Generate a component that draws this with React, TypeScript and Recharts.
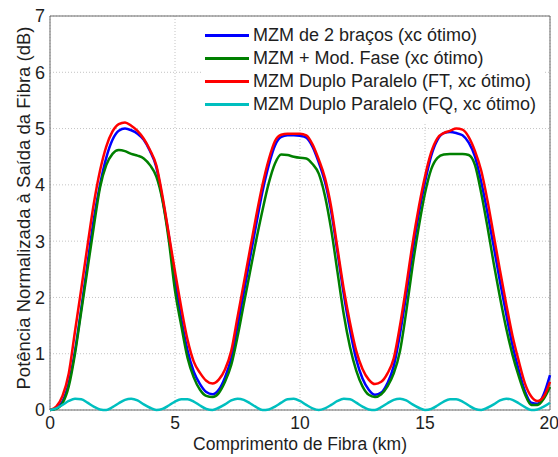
import { CartesianGrid, Label, Legend, Line, LineChart, ReferenceArea, XAxis, YAxis } from "recharts";

// fiber length samples (km)
const KM = [
  0, 0.25, 0.5, 0.75, 1, 1.25, 1.5, 1.75, 2, 2.25, 2.5, 2.75, 3, 3.25, 3.5, 3.75, 4, 4.25, 4.5, 4.75,
  5, 5.25, 5.5, 5.75, 6, 6.25, 6.5, 6.75, 7, 7.25, 7.5, 7.75, 8, 8.25, 8.5, 8.75, 9, 9.25, 9.5, 9.75,
  10, 10.25, 10.5, 10.75, 11, 11.25, 11.5, 11.75, 12, 12.25, 12.5, 12.75, 13, 13.25, 13.5, 13.75, 14, 14.25, 14.5, 14.75,
  15, 15.25, 15.5, 15.75, 16, 16.25, 16.5, 16.75, 17, 17.25, 17.5, 17.75, 18, 18.25, 18.5, 18.75, 19, 19.25, 19.5, 19.75, 20,
];

const MZM_2BRACOS = [
  0, 0.03, 0.15, 0.48, 1.05, 1.8, 2.6, 3.38, 4.0, 4.48, 4.8, 4.96, 5.0, 4.97, 4.91, 4.8, 4.6, 4.32, 3.75, 3.1,
  2.3, 1.62, 1.06, 0.68, 0.46, 0.32, 0.28, 0.36, 0.58, 0.92, 1.48, 2.08, 2.7, 3.3, 3.88, 4.35, 4.7, 4.85, 4.88, 4.88,
  4.87, 4.84, 4.68, 4.4, 4.05, 3.52, 2.8, 2.06, 1.42, 0.9, 0.56, 0.36, 0.27, 0.31, 0.48, 0.78, 1.35, 2.05, 2.8, 3.48,
  4.05, 4.52, 4.8, 4.92, 4.94, 4.92, 4.88, 4.75, 4.5, 4.05, 3.5, 2.9, 2.28, 1.7, 1.15, 0.71, 0.33, 0.13, 0.11, 0.28, 0.62,
];

const MZM_MOD_FASE = [
  0, 0.02, 0.12, 0.42, 1.0, 1.75, 2.5, 3.25, 3.95, 4.35, 4.55, 4.62, 4.6, 4.55, 4.52, 4.47, 4.35, 4.15, 3.72, 3.02,
  2.12, 1.5, 0.93, 0.58, 0.36, 0.25, 0.23, 0.3, 0.5, 0.8, 1.3, 1.88, 2.45, 3.02, 3.55, 4.03, 4.38, 4.54, 4.53, 4.5,
  4.48, 4.47, 4.37, 4.2, 3.8, 3.2, 2.45, 1.7, 1.12, 0.7, 0.42, 0.27, 0.23, 0.28, 0.42, 0.65, 1.05, 1.75, 2.55, 3.25,
  3.85, 4.28, 4.48, 4.54, 4.55, 4.55, 4.55, 4.53, 4.35, 3.85, 3.25, 2.6, 2.0, 1.45, 0.98, 0.6, 0.28, 0.09, 0.09, 0.2, 0.41,
];

const MZM_DP_FT = [
  0, 0.06, 0.25, 0.65, 1.4, 2.15, 2.92, 3.66, 4.25, 4.68, 4.95, 5.08, 5.11, 5.05, 4.96, 4.82, 4.62, 4.35, 3.8, 3.13,
  2.46, 1.82, 1.25, 0.86, 0.66, 0.52, 0.47, 0.54, 0.72, 1.05, 1.65, 2.25, 2.85, 3.45, 4.0, 4.45, 4.78, 4.89, 4.91, 4.91,
  4.91, 4.88, 4.72, 4.45, 4.12, 3.6, 2.87, 2.15, 1.55, 1.05, 0.73, 0.54, 0.46, 0.5, 0.65, 0.92, 1.5, 2.2, 2.95, 3.6,
  4.15, 4.58, 4.83, 4.92, 4.96, 5.0, 4.98, 4.85, 4.6, 4.25, 3.72, 3.1, 2.48, 1.88, 1.32, 0.87, 0.47, 0.24, 0.16, 0.24, 0.5,
];

const MZM_DP_FQ = [
  0, 0.03, 0.09, 0.16, 0.2, 0.19, 0.13, 0.06, 0.01, 0, 0.05, 0.12, 0.18, 0.2, 0.17, 0.1, 0.04, 0, 0.02, 0.08,
  0.15, 0.19, 0.19, 0.15, 0.08, 0.02, 0, 0.04, 0.1, 0.17, 0.2, 0.18, 0.12, 0.05, 0, 0.01, 0.06, 0.13, 0.19, 0.2,
  0.16, 0.09, 0.03, 0, 0.03, 0.09, 0.16, 0.2, 0.19, 0.13, 0.06, 0.01, 0, 0.05, 0.12, 0.18, 0.2, 0.17, 0.1, 0.04,
  0, 0.02, 0.08, 0.15, 0.19, 0.19, 0.15, 0.08, 0.02, 0, 0.04, 0.1, 0.17, 0.2, 0.18, 0.12, 0.05, 0, 0.01, 0.06, 0.13,
];

const X_TICKS = [0, 5, 10, 15, 20];
const Y_TICKS = [0, 1, 2, 3, 4, 5, 6, 7];

const SERIES = [
  { key: "b2", label: "MZM de 2 braços (xc ótimo)", color: "#0000ff", values: MZM_2BRACOS },
  { key: "mf", label: "MZM + Mod. Fase (xc ótimo)", color: "#008000", values: MZM_MOD_FASE },
  { key: "ft", label: "MZM Duplo Paralelo (FT, xc ótimo)", color: "#ff0000", values: MZM_DP_FT },
  { key: "fq", label: "MZM Duplo Paralelo (FQ, xc ótimo)", color: "#00bfbf", values: MZM_DP_FQ },
];

const FONT = "'Liberation Sans', Arial, Helvetica, sans-serif";

const data = KM.map((km, i) => {
  const row: Record<string, number> = { km };
  for (const s of SERIES) row[s.key] = s.values[i];
  return row;
});

function LegendBox() {
  return (
    <div style={{ background: "#fff", padding: "6px 0 8px 2px", fontFamily: FONT }}>
      {SERIES.map((s) => (
        <div key={s.key} style={{ display: "flex", alignItems: "center", height: 23 }}>
          <div style={{ width: 44, height: 2.5, background: s.color, marginRight: 4 }} />
          <span style={{ fontSize: 18, color: "#1e1e1e", lineHeight: "23px", whiteSpace: "nowrap" }}>{s.label}</span>
        </div>
      ))}
    </div>
  );
}

export default function App() {
  return (
    <div style={{ position: "absolute", left: 0, top: 0, width: 558, height: 457, background: "#fff", fontFamily: FONT }}>
      <LineChart width={558} height={457} data={data} margin={{ top: 16, right: 8, bottom: 17, left: 20 }}>
        <CartesianGrid stroke="#c4c4c4" strokeDasharray="1 2" />
        <XAxis
          dataKey="km"
          type="number"
          domain={[0, 20]}
          ticks={X_TICKS}
          height={30}
          axisLine={false}
          tickLine={false}
          tickSize={5}
          tickMargin={2}
          tick={{ fill: "#1e1e1e", fontSize: 17.5 }}
        >
          <Label
            content={() => (
              <text x={300} y={450} textAnchor="middle" fontSize={17.5} fill="#1e1e1e" fontFamily={FONT}>
                Comprimento de Fibra (km)
              </text>
            )}
          />
        </XAxis>
        <YAxis
          type="number"
          domain={[0, 7]}
          ticks={Y_TICKS}
          width={30}
          axisLine={false}
          tickLine={false}
          tickSize={3}
          tick={{ fill: "#1e1e1e", fontSize: 18 }}
        >
          <Label
            content={() => (
              <text
                x={30}
                y={208}
                transform="rotate(-90, 30, 208)"
                textAnchor="middle"
                fontSize={18.5}
                fill="#1e1e1e"
                fontFamily={FONT}
              >
                Potência Normalizada à Saída da Fibra (dB)
              </text>
            )}
          />
        </YAxis>
        <ReferenceArea x1={0} x2={20} y1={0} y2={7} fill="none" stroke="#6a6a6a" strokeWidth={1} />
        {SERIES.map((s) => (
          <Line
            key={s.key}
            dataKey={s.key}
            type="monotone"
            stroke={s.color}
            strokeWidth={2.5}
            dot={false}
            activeDot={false}
            isAnimationActive={false}
          />
        ))}
        <Legend
          layout="vertical"
          align="center"
          verticalAlign="middle"
          wrapperStyle={{ left: 203, top: 18, width: 342 }}
          content={() => <LegendBox />}
        />
      </LineChart>
    </div>
  );
}
